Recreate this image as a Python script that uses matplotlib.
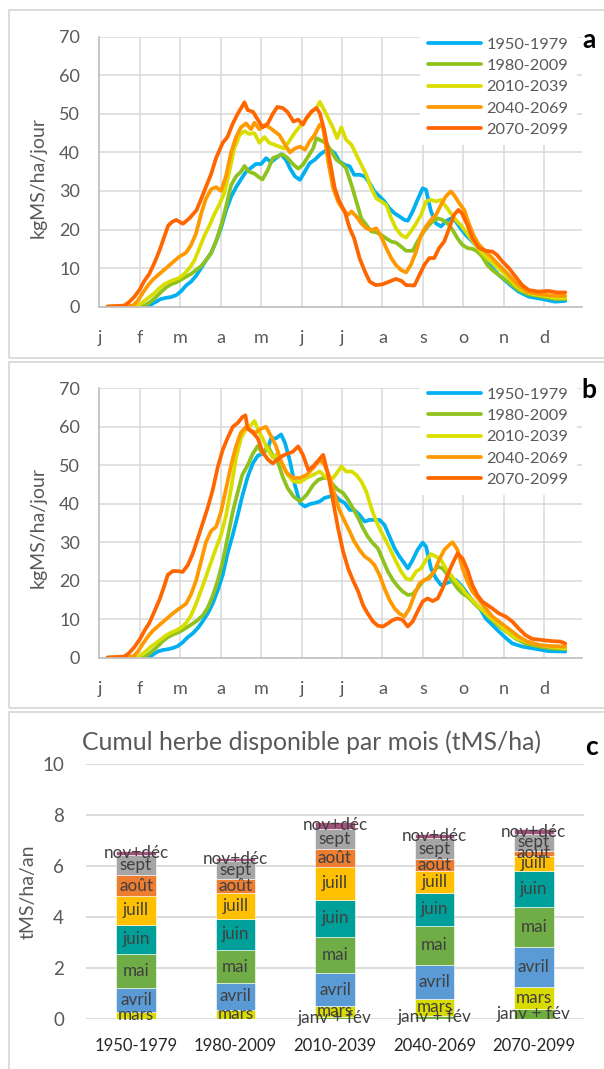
import matplotlib
matplotlib.use("Agg")
import matplotlib.pyplot as plt
from matplotlib.patches import Rectangle

# ---------------- data ----------------
periods = ["1950-1979", "1980-2009", "2010-2039", "2040-2069", "2070-2099"]
month_labels = ["j", "f", "m", "a", "m", "j", "j", "a", "s", "o", "n", "d"]
line_colors = ["#00B0F0", "#8DC21F", "#D9DE00", "#FF9900", "#FF6600"]

# Panel a : (day, kgMS/ha/jour)
a_1950 = [(6,0),(36,0),(38,0.5),(42,1.3),(45.7,2),(49.5,2.3),(53,2.5),(57,3),(60.6,4),(64.3,5.5),(68,6.5),(71.7,8),(75.4,10),(79,12),(83,14),(86.6,17),(90.3,20.5),(94,25),(97.7,28.5),(101.4,31),(105,33),(108.8,35),(112.5,36),(116,37),(120,37),(123.6,38.5),(127.4,37.5),(131,38.5),(134.8,39.5),(138.5,38),(141.4,35.9),(145,33.8),(148.8,32.9),(152.5,35.1),(156,37.2),(159.8,38.1),(163.5,39.4),(167,40.3),(171,40.7),(174.6,39.8),(178,37.7),(182,36.8),(185.7,36.4),(189,34.2),(193,34.2),(196.8,33.8),(200.5,32),(204,29.9),(207.8,28.6),(211.5,27.3),(215.2,25.5),(219,24.2),(222.6,23.4),(226.3,22.5),(228.8,22.3),(232.4,24.7),(236,27.7),(239.8,30.7),(242.3,30.3),(246,24.7),(249.7,21.6),(253.4,20.8),(257,22.1),(260.7,22.9),(264.4,22.1),(268,20.3),(271.8,18.6),(275.5,17.3),(279,16),(283,14.3),(286.6,12.1),(291.5,10),(296.4,8.2),(301.3,6.7),(306.3,5.2),(311,3.9),(318.6,2.6),(328.4,2),(338,1.3),(345.6,1.5)]
a_1980 = [(6,0),(32,0),(34.6,0.5),(38,1.3),(42,2.5),(45.7,3.8),(49.5,5),(53,5.8),(57,6.3),(60.6,7),(64.3,7.8),(68,8.5),(71.7,9.5),(75.4,10.5),(79,12),(83,14),(86.6,17),(90.3,21),(94,26),(97.7,31.5),(101.4,33.8),(105,35),(107.6,36.5),(111,35),(115,34.5),(118.7,33.5),(121,33),(125,35.5),(128.6,38.5),(132,39),(136,39.5),(139.7,38.5),(144,36.8),(147.5,35.8),(151,36.8),(155,39),(158.6,41.1),(161,43.7),(164.8,43),(168.5,42.4),(172,40.3),(175.8,38.1),(179.5,37.2),(183,35.9),(187,31.6),(190.6,27.3),(194.3,22.9),(198,21.2),(201.7,19.5),(205.4,19.3),(209,18.6),(212.8,17.7),(216.5,16.9),(220,16.6),(223.8,15.6),(227.5,14.5),(232.4,14.5),(236,16.9),(239.8,19),(243.5,20.8),(247.2,22.1),(251,22.9),(254.6,22.5),(258.3,21.6),(262,19.9),(265.7,17.7),(269.4,16),(273,15.2),(276.7,15),(280.4,14.3),(284,13),(287.8,10.8),(291.5,9.5),(296.4,8.2),(301.3,6.9),(306.3,5.6),(311,4.3),(318.6,3.2),(328.4,2.6),(338,2),(345.6,2)]
a_2010 = [(6,0),(27,0),(29.7,0.5),(33.4,1.5),(37,2.5),(40.8,3.5),(44.5,4.8),(48,5.8),(52,6.5),(55.6,7),(59.4,7.5),(63,8.5),(66.8,10),(70.5,12),(74,15),(78,18.5),(81.6,21),(85.3,24),(89,26.5),(92.7,29.5),(96.4,35),(100,41),(104,44.5),(107.6,45.5),(111,44.8),(115,45),(118.7,42.5),(122.4,44),(126,42.5),(129.8,42),(133.5,41.5),(137,41),(141,43),(144.7,45),(148.8,46.8),(153.7,48.7),(157.4,50.6),(161,51.5),(163.5,53.1),(166,51.5),(169.7,48.9),(173.4,46.3),(176.3,43.7),(179.5,46.5),(183,43.3),(187,42),(190.6,39.4),(194.3,36.8),(198,34.2),(201.7,30.7),(205.4,28.1),(209,27.3),(212.8,26.4),(216.5,22.9),(220,20.3),(223.8,18.6),(227.5,17.9),(231,19.5),(235,21.6),(238.6,23.8),(242.3,27.3),(246,27.7),(249.7,27.3),(253.4,27.7),(257,26),(260.7,24.2),(264.4,22.5),(268,21.2),(271.8,19.5),(275.5,17.7),(279,16),(284,13.9),(289,12.1),(294,10.6),(299,9.1),(303.8,7.4),(308.7,5.5),(313.6,4.3),(321,3.3),(330.8,2.8),(338,2.3),(345.6,2.2)]
a_2040 = [(6,0),(25,0.3),(28.4,1.5),(32,3.5),(36,5.5),(39.6,7),(44.5,8.5),(49.5,10),(54.4,11.5),(59.4,13),(64.3,14),(68,16),(71.7,19),(75.4,24),(79,28),(83,30.5),(86.6,31),(90.3,30),(94,34),(97.7,40),(101.4,44),(105,46.5),(108.8,47.5),(112.5,46),(115,47.7),(118.7,46),(122.4,47),(126,46.5),(129.8,45.5),(133.5,44.5),(137.7,42),(141.4,40),(145,41),(148.8,41.5),(152.5,40.7),(156,42.9),(159.8,44.6),(163.5,47.2),(166,46.3),(169.7,37.7),(173.4,30.7),(177,27.3),(180.8,25.1),(184.5,23.8),(187,24.7),(190.6,23.4),(194.3,21.6),(198,20.3),(201.7,19.9),(205.4,20.3),(209,18.2),(212.8,15.2),(216.5,12.6),(220,10.8),(223.8,9.5),(227.5,8.9),(231,10.8),(235,14.3),(238.6,18.6),(242.3,20.8),(246,22.5),(249.7,23.8),(253.4,26.4),(257,28.6),(260.7,29.9),(263,29),(267,26.8),(270.6,25.1),(274,21.6),(278,18.2),(281.7,16),(286.6,14.3),(291.5,12.6),(296.4,10.8),(301.3,9.1),(306.3,7.2),(311,5.5),(317.3,3.9),(326,3.3),(333,3),(340.7,2.8),(345.6,2.8)]
a_2070 = [(6,0),(18.5,0.3),(22,1.2),(26,2.6),(30,4.5),(33,6.5),(37,8.5),(41,11.5),(44.5,14.5),(48,18),(51,21),(54,22),(57,22.5),(62,21.5),(67,23),(72,25),(75,27.5),(79,31),(83,34.5),(86.5,38.5),(91.5,42.5),(95,44),(99,47.5),(102.6,50),(106,52),(107.6,53),(110,51),(114,50.5),(117.5,48.5),(121,46.5),(125,47.5),(128.6,50),(132,51.8),(136,51.5),(139.5,50.5),(144,48),(147.5,48.5),(151,47.2),(153.7,49),(157.4,50.6),(161,51.5),(163.5,50.2),(167,45.5),(171,37.7),(174.6,30.7),(178,27.3),(182,24.7),(185.7,20.3),(189,17.7),(193,12.6),(197,9.1),(200.5,6.5),(205,5.6),(210,5.8),(215,6.5),(220,7.2),(224,6.7),(227.5,5.6),(233.7,5.5),(237.4,8.2),(241,10.8),(244.7,12.6),(248.4,12.6),(252,15.2),(255.8,16.9),(259.5,20.3),(263,23.8),(266.4,25.1),(269,24.2),(273,21.2),(276.7,17.7),(281.7,15.2),(286.6,14.5),(291.5,14.3),(295,13.4),(299,11.7),(303.8,10),(308.7,7.8),(313.6,5.6),(318.6,4.3),(326,3.9),(333,4.1),(339.5,3.7),(345.6,3.7)]

# Panel b
b_1950 = [(6,0),(37,0),(39.6,0.8),(43.3,1.6),(47,2),(50.7,2.2),(54.4,2.5),(58,3),(61.8,4),(65.5,5.3),(69.2,6.3),(73,7.7),(76.7,9.5),(80.4,11.5),(84,14),(87.8,17.5),(91.5,21.5),(95,27),(99,32),(102.6,37),(106,42),(110,47),(113.8,50.5),(117.5,52.5),(121,53),(125,54.5),(127.4,57),(131,57),(134.8,58),(137.7,55.8),(141.4,51),(145,44.9),(148.8,40.2),(152.5,39.3),(156,39.9),(159.8,40.2),(163.5,40.6),(167,41.5),(171,41.9),(174.6,42.3),(178,41),(182,40.2),(185.7,38.4),(189,38.4),(193,37.1),(196.8,35.4),(200.5,35.8),(204,35.8),(207.8,35.8),(211.5,34.5),(215.2,31.5),(219,28.4),(222.6,26.3),(226.3,24.5),(228.8,23.2),(232.4,25.4),(236,28),(239.8,29.9),(242.3,28.9),(246,23.2),(249.7,20.6),(253.4,18.9),(257,19.3),(260.7,19.8),(264.4,20.2),(268,18.9),(271.8,17.2),(275.5,15.4),(279,14.1),(283,12.4),(286.6,10.2),(291.5,8.5),(296.4,6.8),(301.3,5.2),(306.3,3.7),(313.6,2.9),(323.5,2.3),(333.3,1.7),(345.6,1.6)]
b_1980 = [(6,0),(33,0),(36,0.8),(39.6,1.8),(43.3,3),(47,4.3),(50.7,5.3),(54.4,6),(58,6.5),(61.8,7.2),(65.5,8),(69,8.8),(73,9.8),(76.7,11),(80.4,13),(84,16),(87.8,20),(91.5,25),(95,31),(99,38),(102.6,43),(106,47.5),(110,50),(113.8,53),(117.5,55),(121,53),(125,55),(128.6,52.5),(132.3,51),(136,47),(139.7,44),(144,41.9),(148.8,40.6),(153.7,42.3),(158.6,44.9),(162.3,46.2),(166,46.7),(169.7,46.7),(173.4,44.9),(177,43.6),(180.8,42.8),(184.5,41),(188,38.9),(192,36.3),(195.5,33.7),(199,31.5),(203,29.7),(206.6,28.4),(210.3,25.4),(214,22.4),(217.7,20.2),(221.4,18.5),(225,17.2),(228.8,16.3),(232.4,16.5),(236,18),(239.8,19.8),(243.5,20.6),(247.2,21.9),(251,23.7),(254.6,23.2),(258.3,21.5),(262,19.8),(265.7,18),(269.4,16.7),(273,15.9),(276.7,14.6),(280.4,13.3),(284,12.4),(289,10.7),(294,8.9),(299,7.5),(303.8,6.3),(308.7,5),(316,3.7),(326,2.9),(335.8,2.4),(345.6,2.3)]
b_2010 = [(6,0),(28,0),(31,0.7),(34.6,1.7),(38,2.8),(42,3.8),(45.7,4.8),(49.5,5.8),(53,6.5),(57,7.1),(60.6,7.8),(64.3,9),(68,11),(71.7,14),(75.4,17.5),(79,21),(83,25),(86.6,28.5),(90.3,32),(94,37),(97.7,44),(101.4,52),(105,57),(108.8,59.5),(112.5,60.5),(115,61.5),(117.5,59.5),(121,57),(125,54),(128.6,52),(132.3,53),(136,50),(139.7,47.5),(144,45.8),(148.8,45.6),(153.7,46.7),(158.6,47.5),(163.5,48.4),(168.5,46.7),(173.4,46.7),(177,48.4),(179.5,49.7),(183,48.4),(187,48.4),(190.6,47.5),(194.3,45.8),(198,43.2),(201.7,38.9),(205.4,35.4),(209,32.8),(212.8,30.2),(216.5,27.6),(220,25),(223.8,22.4),(227.5,20.6),(231,20.2),(235,22.4),(238.6,23.2),(242.3,25.4),(246,26.9),(249.7,26.3),(253.4,25.4),(257,23.2),(260.7,21.5),(264.4,19.8),(268,18.5),(271.8,16.7),(275.5,15.4),(279,14.1),(284,12.4),(289,10.7),(294,9.4),(299,7.8),(303.8,6.3),(308.7,5.2),(316,4.2),(326,3.3),(335.8,2.8),(345.6,2.4)]
b_2040 = [(6,0),(25,0.3),(28.4,1.5),(32,3.5),(36,5.5),(39.6,7),(44.5,8.5),(49.5,10),(54.4,11.5),(59.4,12.8),(64.3,14),(68,16.5),(71.7,20),(75.4,25),(79,30),(83,33),(86.6,34),(90.3,38),(94,44),(97.7,50),(101.4,55),(105,58.5),(108.8,60),(112.5,59),(116,58.5),(120,59.5),(123.6,60),(127.4,57.5),(131,55),(134.8,51),(139,48),(144,46.7),(148.8,46.7),(153.7,47.5),(158.6,49.3),(163.5,51.4),(167,50.1),(171,46.7),(174.6,42.3),(178,38.4),(182,35.4),(185.7,32.8),(189,30.2),(193,28),(196.8,26.3),(200.5,25.4),(204,24.1),(207.8,21.5),(211.5,18),(215.2,15),(219,12.8),(222.6,11.5),(226.3,10.7),(230,12.8),(233.7,16.3),(237.4,19.3),(241,20.2),(244.7,20.6),(248.4,22.4),(252,25.4),(255.8,28),(259.5,29.3),(262,30),(265.7,28),(269.4,23.2),(273,19.8),(276.7,17.2),(281.7,15),(286.6,12.8),(291.5,10.7),(296.4,9.4),(301.3,8.1),(306.3,6.8),(311,5.5),(317.3,4.2),(326,3.3),(335.8,3),(345.6,2.9)]
b_2070 = [(6,0),(18.5,0.3),(22,1.2),(26,2.8),(30,4.8),(33.4,7),(37,9),(40.8,12),(44.5,15),(48,18.5),(50.7,21.5),(54.4,22.5),(58,22.5),(61.8,22.3),(65.5,24),(69.2,27),(73,31),(76.7,35),(80.4,39),(84,43.5),(87.8,49.5),(91.5,54),(95,57),(99,60),(102.6,61),(106,62.5),(108.3,63),(110,59.5),(113.8,58.5),(117.5,57),(121,53.5),(125,51.5),(128.6,50.5),(132.3,51.5),(136,52.5),(139.7,53),(143.4,53.5),(147.5,54.9),(151,52.7),(155,48.8),(158.6,49.7),(162.3,51.2),(166,52.7),(169.7,47.5),(173.4,40.6),(177,33.7),(180.8,27.6),(184.5,23.2),(188,20.2),(192,17.2),(195.5,13.7),(199,11.5),(203,9.4),(206.6,8.3),(210.3,8.1),(214,8.9),(217.7,9.8),(221.4,10.2),(225,9.8),(228.8,8.1),(232.4,9.4),(236,12),(239.8,14.6),(243.5,15.4),(247.2,14.7),(251,15.4),(254.6,18),(258.3,21.5),(262,24.5),(265.7,27.1),(269.4,25.8),(273,22.8),(276.7,18.9),(280.4,16.3),(284,14.6),(287.8,13.7),(291.5,12.8),(296.4,11.5),(301.3,10.7),(306.3,9.4),(311,7.6),(316,5.9),(321,4.9),(328.4,4.6),(335.8,4.3),(342,4.2),(345.6,3.7)]

# Panel c : monthly cumulated grass (tMS/ha), one value per period
seg_names = ["janv + fév", "mars", "avril", "mai", "juin", "juill", "août", "sept", "nov+déc"]
seg_colors = ["#6FAE3E", "#D8DA00", "#5B9BD5", "#70AD47", "#00A09A", "#FFC000", "#ED7D31", "#A5A5A5", "#A5527F"]
janv_fev = [0.0, 0.0, 0.08, 0.12, 0.39]
mars     = [0.28, 0.37, 0.44, 0.68, 0.87]
avril    = [0.92, 1.03, 1.27, 1.33, 1.56]
mai      = [1.34, 1.29, 1.43, 1.52, 1.56]
juin     = [1.16, 1.25, 1.46, 1.31, 1.43]
juill    = [1.13, 1.02, 1.30, 0.86, 0.59]
aout     = [0.80, 0.54, 0.70, 0.44, 0.20]
sept     = [0.81, 0.69, 0.77, 0.84, 0.66]
nov_dec  = [0.16, 0.13, 0.28, 0.17, 0.18]
seg_values = [janv_fev, mars, avril, mai, juin, juill, aout, sept, nov_dec]

# ---------------- figure ----------------
W, H = 604, 1069
fig = plt.figure(figsize=(W / 100, H / 100), dpi=100)
plt.rcParams['font.family'] = ['Lato', 'DejaVu Sans']
GRAY_TXT = "#595959"
GRID = "#D9D9D9"

def fx(px):
    return px / W

def fy(py):
    return 1 - py / H

# panel frames
for top, bot in [(10, 358.3), (361.7, 708.3), (712.3, 1080)]:
    fig.patches.append(Rectangle((fx(9), fy(bot)), 1.2, (bot - top) / H,
                                 transform=fig.transFigure, fill=False,
                                 edgecolor=GRID, lw=1.3, zorder=0))


def line_panel(top_px, bot_px, series, letter, letter_base, ylab_y, leg_top):
    ax = fig.add_axes([fx(99.4), fy(bot_px), (581.7 - 99.4) / W, (bot_px - top_px) / H])
    for label, pts, col in zip(periods, series, line_colors):
        ax.plot([p[0] for p in pts], [p[1] for p in pts], color=col, lw=2.7,
                label=label, solid_joinstyle='round', solid_capstyle='round')
    ax.set_xlim(0, 357.8)
    ax.set_ylim(0, 70)
    ax.set_xticks(range(0, 360, 30))
    ax.set_xticklabels(month_labels)
    ax.set_yticks(range(0, 71, 10))
    ax.grid(True, color=GRID, lw=1.1)
    ax.set_axisbelow(True)
    for s in ['top', 'right']:
        ax.spines[s].set_visible(False)
    for s in ['left', 'bottom']:
        ax.spines[s].set_color('#BFBFBF')
        ax.spines[s].set_linewidth(1.2)
    ax.tick_params(axis='both', length=0, labelsize=13, labelcolor=GRAY_TXT)
    ax.tick_params(axis='x', pad=17.0)
    ax.tick_params(axis='y', pad=14.0)
    leg = ax.legend(loc='upper left', bbox_to_anchor=(fx(420), fy(leg_top)),
                    bbox_transform=fig.transFigure, frameon=True, fancybox=False,
                    framealpha=1, facecolor='white', edgecolor='none', fontsize=11.8,
                    handlelength=3.2, handletextpad=0.35, labelspacing=0.42,
                    borderpad=0.5, borderaxespad=0)
    for t in leg.get_texts():
        t.set_color(GRAY_TXT)
    fig.text(fx(38), fy(ylab_y), "kgMS/ha/jour", rotation=90, ha='center', va='center',
             fontsize=14, color=GRAY_TXT)
    fig.text(fx(589), fy(letter_base), letter, ha='center', va='baseline',
             fontsize=19, fontweight='bold', color='black')
    return ax


line_panel(36.7, 306.7, [a_1950, a_1980, a_2010, a_2040, a_2070], 'a', 47.7, 177, 29)
line_panel(388.3, 657.7, [b_1950, b_1980, b_2010, b_2040, b_2070], 'b', 398, 528, 379)

# ---- panel c ----
axc = fig.add_axes([fx(86.3), fy(1019), (583.6 - 86.3) / W, 255 / H])
xpos = list(range(len(periods)))
bottom = [0.0] * len(periods)
for name, vals, col in zip(seg_names, seg_values, seg_colors):
    bars = axc.bar(xpos, vals, 0.40, bottom=bottom, color=col,
                   edgecolor='white', linewidth=0.4, zorder=3)
    axc.bar_label(bars, labels=[name if v > 0 else '' for v in vals],
                  label_type='center', fontsize=12.3, color='#404040', zorder=4)
    bottom = [b + v for b, v in zip(bottom, vals)]
axc.set_xlim(-0.5, 4.5)
axc.set_ylim(0, 10)
axc.set_yticks(range(0, 11, 2))
axc.set_xticks(xpos)
axc.set_xticklabels(periods)
axc.grid(True, axis='y', color=GRID, lw=1.3, zorder=0)
axc.set_axisbelow(True)
for s in axc.spines.values():
    s.set_visible(False)
axc.tick_params(axis='both', length=0)
axc.tick_params(axis='y', labelsize=13.5, labelcolor=GRAY_TXT, pad=16)
axc.tick_params(axis='x', labelsize=12, labelcolor='#262626', pad=13.5)
fig.text(fx(311), fy(750), "Cumul herbe disponible par mois (tMS/ha)", ha='center',
         va='baseline', fontsize=17.8, color=GRAY_TXT)
fig.text(fx(28), fy(892), "tMS/ha/an", rotation=90, ha='center', va='center',
         fontsize=14, color=GRAY_TXT)
fig.text(fx(592), fy(755), 'c', ha='center', va='baseline', fontsize=19,
         fontweight='bold', color='black')

fig.savefig("out.png", dpi=100, facecolor='white')
